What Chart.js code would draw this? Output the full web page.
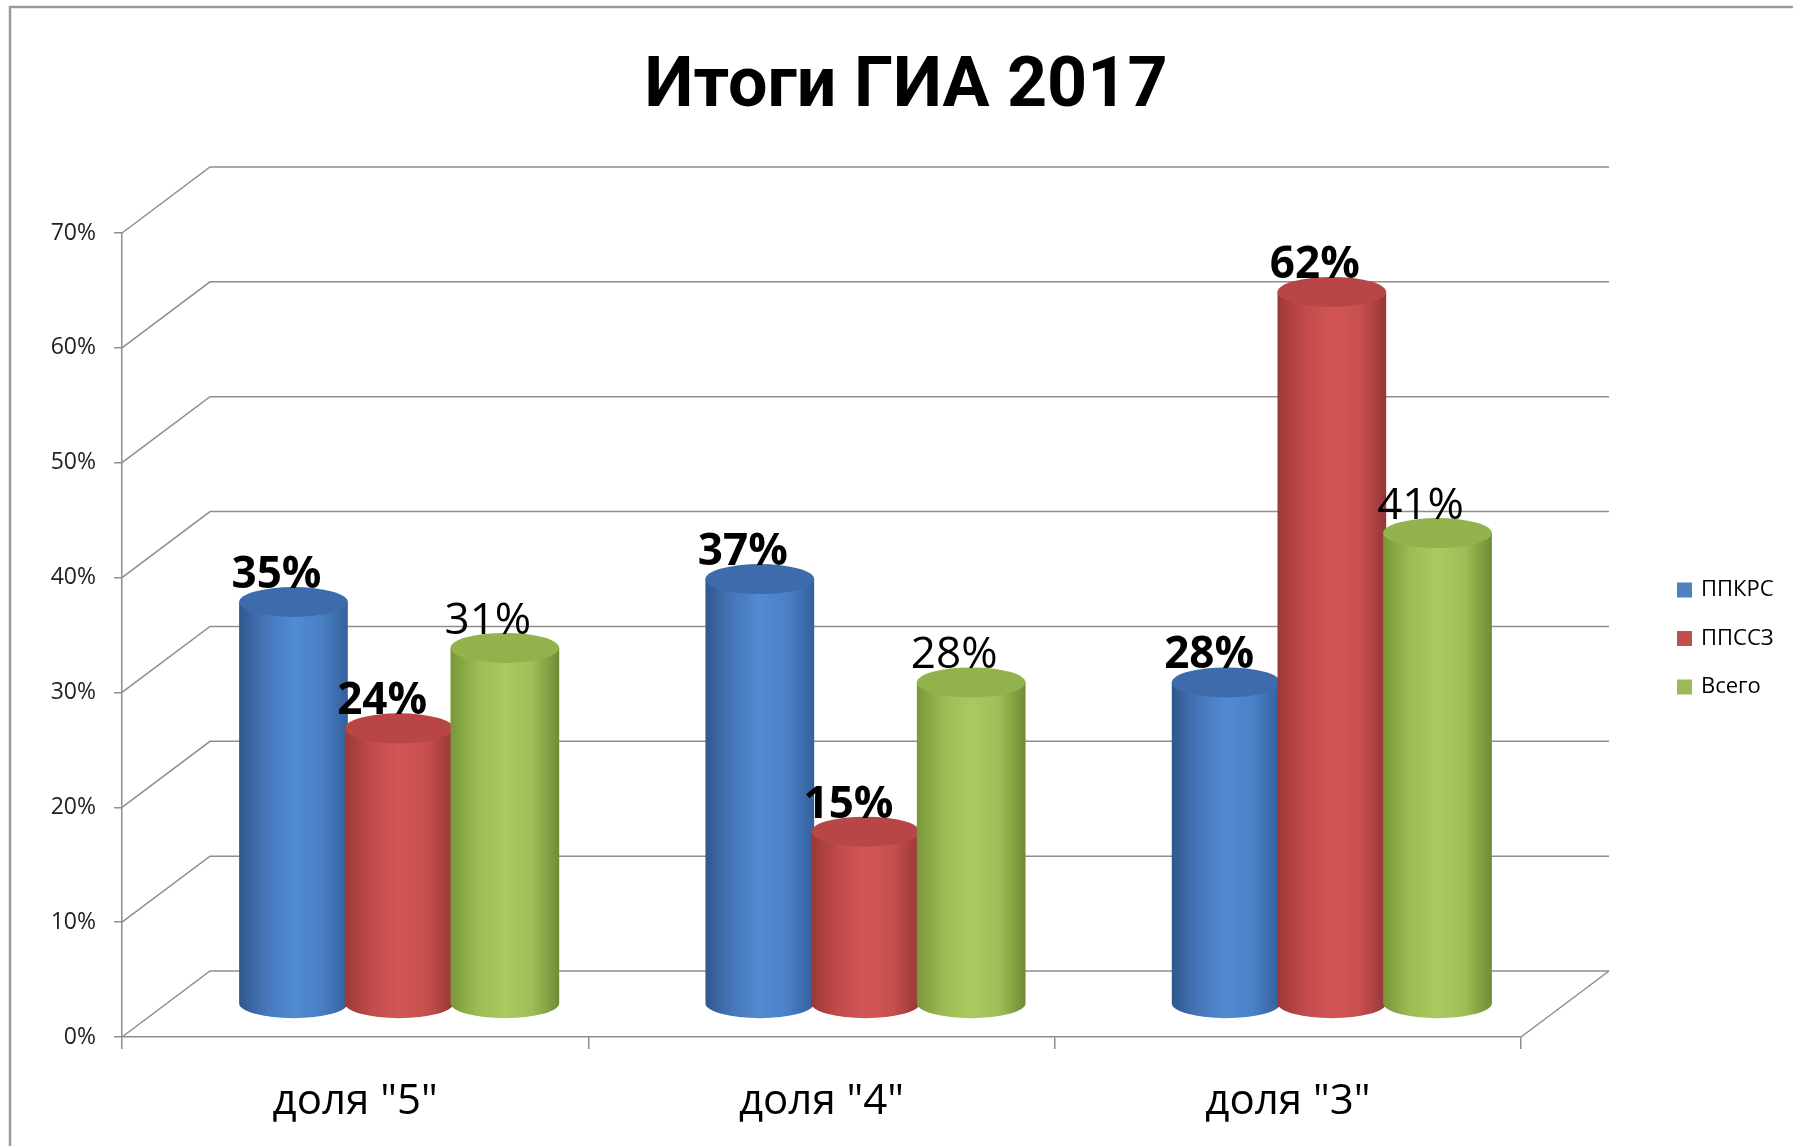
<!DOCTYPE html>
<html>
<head>
<meta charset="utf-8">
<script src="https://cdn.jsdelivr.net/npm/chart.js@4.4.0/dist/chart.umd.min.js"></script>
<style>
    html, body { margin: 0; padding: 0; background: #fff; }
    #wrap { width: 1793px; height: 1146px; position: relative; }
</style>
</head>
<body>
<div id="wrap"><canvas id="chart"></canvas></div>
<script>
const chartTitle = 'Итоги ГИА 2017';
const categories = ['доля "5"', 'доля "4"', 'доля "3"'];
const seriesNames = ['ППКРС', 'ППССЗ', 'Всего'];
const ppkrsValues = [35, 37, 28];
const ppsszValues = [24, 15, 62];
const totalValues = [31, 28, 41];
const yTickValues = [0, 10, 20, 30, 40, 50, 60, 70];

const FONT = '"Open Sans", "Noto Sans", sans-serif';

// office-like palette, plus shading for the cylinders
const legendColors = ['#4f81bd', '#c0504d', '#9bbb59'];
const shades = [
    { top: '#3e6bab', stops: ['#30578e', '#4677bb', '#518bd3', '#4a80c6', '#34609c'] },
    { top: '#b94646', stops: ['#9c3838', '#c24b4b', '#d35656', '#c84f4f', '#963737'] },
    { top: '#91b24c', stops: ['#7a973a', '#9bbd53', '#a8ca5f', '#9dbf56', '#708c34'] },
];
const boldLabel = [true, true, false];

// 3d depth of the plot box
const DX = 88;
const DY = -66;
const RY = 15;

const drawCylinder = (ctx, cx, w, yTop, yBot, shade) => {
    const l = cx - w / 2;
    const r = cx + w / 2;
    const grad = ctx.createLinearGradient(l, 0, r, 0);
    const n = shade.stops.length - 1;
    shade.stops.forEach((c, i) => grad.addColorStop(i / n, c));

    ctx.beginPath();
    ctx.moveTo(l, yTop);
    ctx.lineTo(l, yBot);
    ctx.ellipse(cx, yBot, w / 2, RY, 0, Math.PI, 0, true);
    ctx.lineTo(r, yTop);
    ctx.closePath();
    ctx.fillStyle = grad;
    ctx.fill();

    ctx.beginPath();
    ctx.ellipse(cx, yTop, w / 2, RY, 0, 0, Math.PI * 2);
    ctx.fillStyle = shade.top;
    ctx.fill();
};

const depthPlugin = {
    id: 'depth',
    beforeDraw(chart) {
        const ctx = chart.ctx;
        ctx.save();
        ctx.fillStyle = '#fff';
        ctx.fillRect(0, 0, chart.width, chart.height);
        ctx.strokeStyle = '#9a9a9a';
        ctx.lineWidth = 2.5;
        ctx.beginPath();
        ctx.moveTo(10, chart.height);
        ctx.lineTo(10, 7);
        ctx.lineTo(chart.width, 7);
        ctx.stroke();
        ctx.restore();
    },
    beforeDatasetsDraw(chart) {
        const { ctx, chartArea: a } = chart;
        const y = chart.scales.y;
        ctx.save();

        ctx.strokeStyle = '#8e8e8e';
        ctx.lineWidth = 1.5;
        yTickValues.forEach((v) => {
            const py = y.getPixelForValue(v);
            ctx.beginPath();
            ctx.moveTo(a.left, py);
            ctx.lineTo(a.left + DX, py + DY);
            ctx.lineTo(a.right + DX, py + DY);
            ctx.stroke();
        });
        ctx.beginPath();
        ctx.moveTo(a.right, a.bottom);
        ctx.lineTo(a.right + DX, a.bottom + DY);
        ctx.stroke();

        chart.data.datasets.forEach((ds, di) => {
            const meta = chart.getDatasetMeta(di);
            meta.data.forEach((bar) => {
                drawCylinder(ctx, bar.x + DX / 2, bar.width + 3, bar.y + DY / 2, bar.base + DY / 2, shades[di]);
            });
        });

        ctx.fillStyle = '#000';
        ctx.textAlign = 'center';
        ctx.textBaseline = 'alphabetic';
        chart.data.datasets.forEach((ds, di) => {
            const meta = chart.getDatasetMeta(di);
            ctx.font = `${boldLabel[di] ? 'bold ' : ''}44px ${FONT}`;
            meta.data.forEach((bar, i) => {
                ctx.fillText(ds.data[i] + '%', bar.x + DX / 2 - 17, bar.y + DY / 2 - 14);
            });
        });

        ctx.restore();
        return false;
    },
    afterDraw(chart) {
        const ctx = chart.ctx;
        ctx.save();

        // title, centred on the whole picture rather than the plot
        ctx.fillStyle = '#000';
        ctx.textAlign = 'center';
        ctx.textBaseline = 'alphabetic';
        ctx.font = `bold 70px Roboto, ${FONT}`;
        ctx.fillText(chartTitle, 906, 106);

        ctx.font = `22px ${FONT}`;
        ctx.textBaseline = 'middle';
        ctx.textAlign = 'left';
        seriesNames.forEach((name, i) => {
            const cy = 590 + i * 48.5;
            ctx.fillStyle = legendColors[i];
            ctx.fillRect(1677, cy - 7.5, 15, 15);
            ctx.fillStyle = '#000';
            ctx.fillText(name, 1701, cy);
        });
        ctx.restore();
    },
};

new Chart(document.getElementById('chart').getContext('2d'), {
    type: 'bar',
    data: {
        labels: categories,
        datasets: [
            { label: seriesNames[0], data: ppkrsValues, backgroundColor: legendColors[0] },
            { label: seriesNames[1], data: ppsszValues, backgroundColor: legendColors[1] },
            { label: seriesNames[2], data: totalValues, backgroundColor: legendColors[2] },
        ],
    },
    plugins: [depthPlugin],
    options: {
        responsive: true,
        maintainAspectRatio: false,
        animation: false,
        datasets: {
            bar: { categoryPercentage: 0.68, barPercentage: 1.0 },
        },
        layout: {
            padding: { left: 0, right: 272, top: 233, bottom: 0 },
        },
        scales: {
            x: {
                afterFit: (s) => { s.height = 109; },
                grid: {
                    display: true,
                    drawOnChartArea: false,
                    drawTicks: true,
                    tickLength: 12,
                    color: '#8e8e8e',
                    lineWidth: 1.5,
                },
                border: { display: true, color: '#8e8e8e', width: 1.5 },
                ticks: {
                    color: '#000',
                    padding: 28,
                    font: { family: FONT, size: 42 },
                },
            },
            y: {
                min: 0,
                max: 70,
                afterFit: (s) => { s.width = 122; },
                afterBuildTicks: (s) => { s.ticks = yTickValues.map((v) => ({ value: v })); },
                grid: {
                    display: true,
                    drawOnChartArea: false,
                    drawTicks: true,
                    tickLength: 8,
                    color: '#8e8e8e',
                    lineWidth: 1.5,
                },
                border: { display: true, color: '#8e8e8e', width: 1.5 },
                ticks: {
                    color: '#222',
                    padding: 18,
                    font: { family: FONT, size: 23 },
                    callback: (v) => v + '%',
                },
            },
        },
        plugins: {
            legend: { display: false },
            tooltip: { enabled: false },
            title: { display: false },
        },
    },
});
</script>
</body>
</html>
